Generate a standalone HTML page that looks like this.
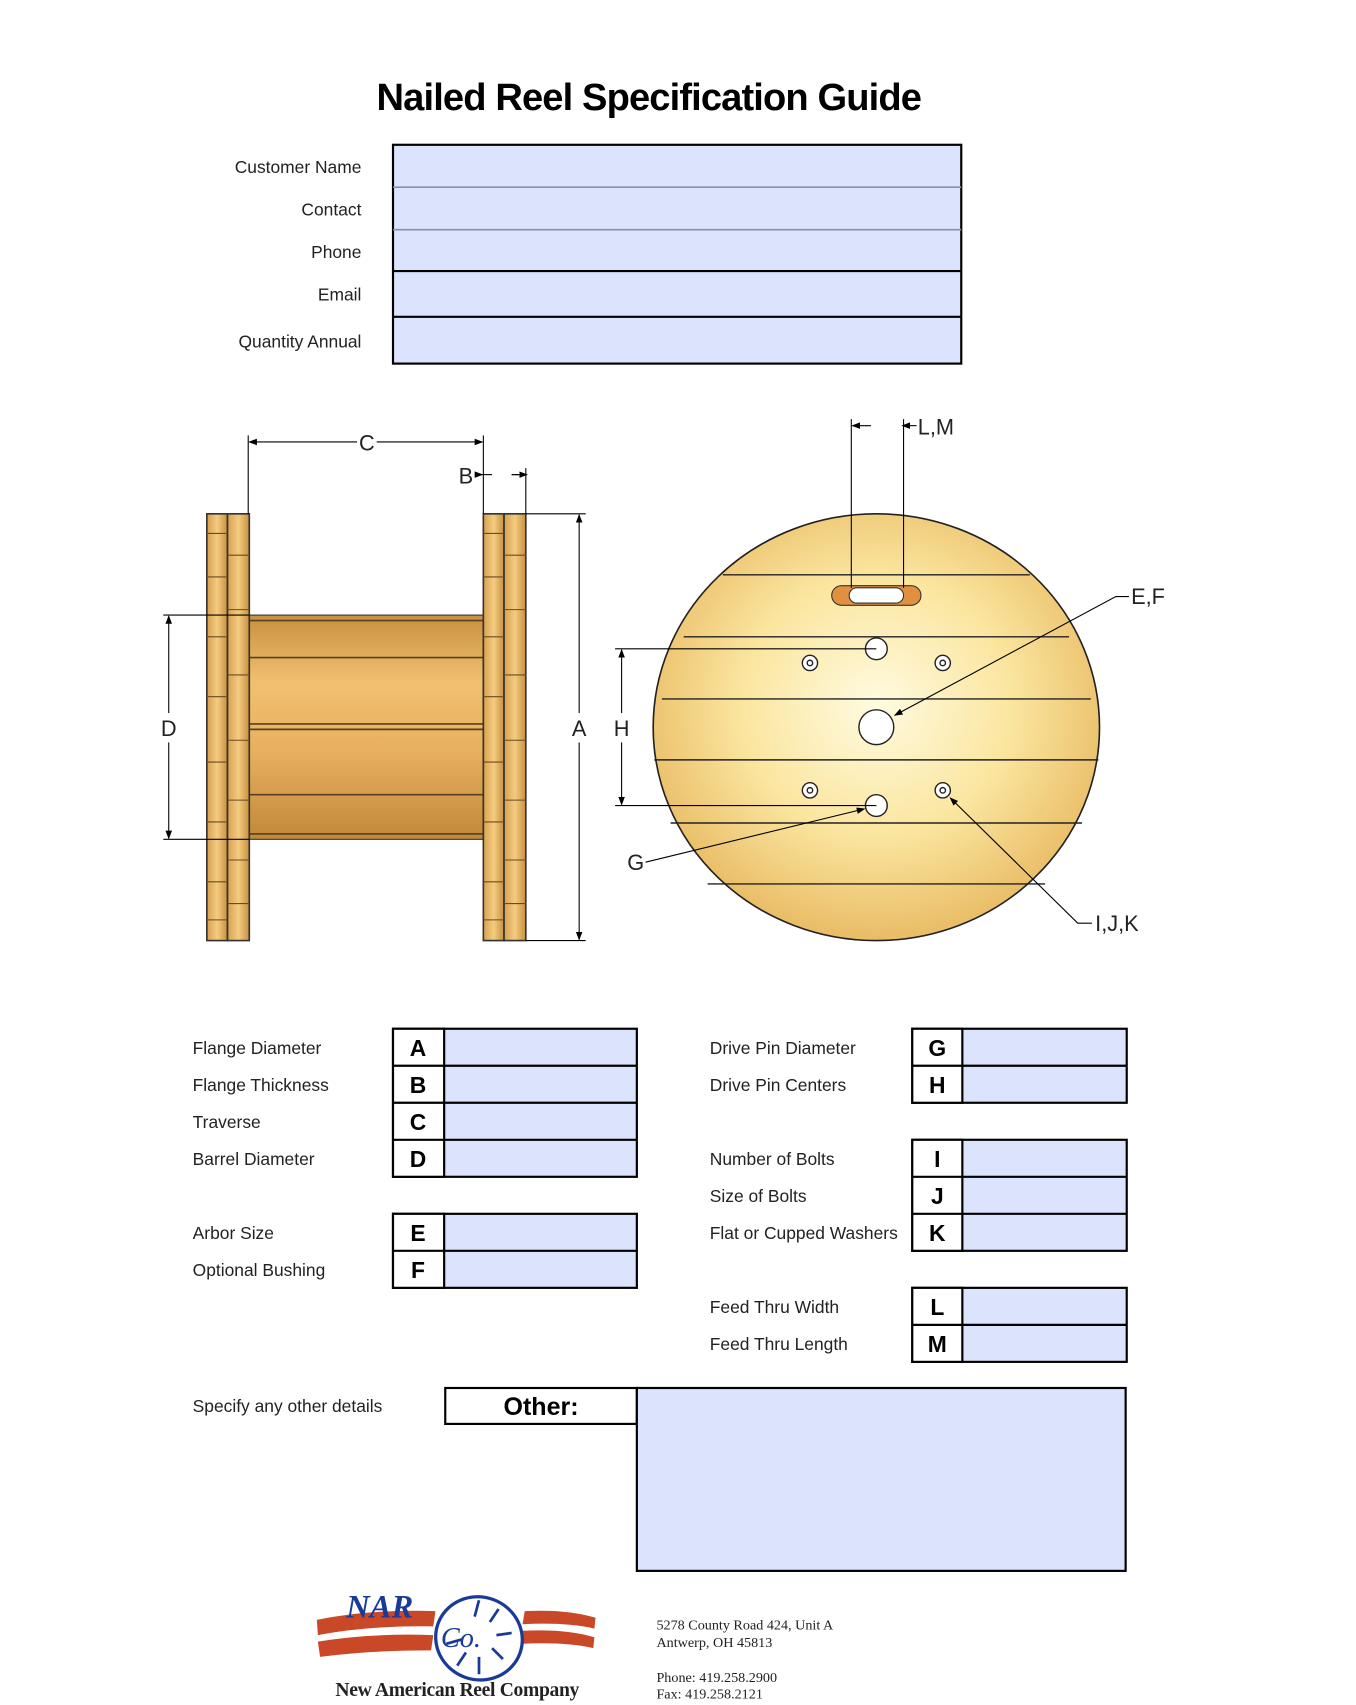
<!DOCTYPE html>
<html><head><meta charset="utf-8"><style>html,body{margin:0;padding:0;background:#fff}svg{display:block}</style></head>
<body>
<svg width="1356" height="1705" viewBox="0 0 1245.6 1566.2" xmlns="http://www.w3.org/2000/svg" font-family="Liberation Sans, sans-serif">
<defs>
<linearGradient id="barrel" x1="0" y1="0" x2="0" y2="1">
<stop offset="0" stop-color="#c89040"/><stop offset="0.3" stop-color="#f0c070"/><stop offset="0.6" stop-color="#e8b060"/><stop offset="1" stop-color="#c08838"/></linearGradient>
<linearGradient id="fl" x1="0" y1="0" x2="1" y2="0">
<stop offset="0" stop-color="#d8a050"/><stop offset="0.5" stop-color="#f4cc80"/><stop offset="1" stop-color="#c89040"/></linearGradient>
<radialGradient id="disk" cx="0.5" cy="0.45" r="0.6">
<stop offset="0" stop-color="#fffbe0"/><stop offset="0.5" stop-color="#fbe6a0"/><stop offset="1" stop-color="#e6b45a"/></radialGradient>
<marker id="ar" markerWidth="8" markerHeight="8" refX="7" refY="4" orient="auto" markerUnits="userSpaceOnUse"><path d="M0,1 L8,4 L0,7 Z" fill="#000"/></marker>
</defs>
<text x="596" y="101" font-size="35" font-weight="bold" text-anchor="middle" letter-spacing="-0.8">Nailed Reel Specification Guide</text>
<rect x="361" y="133" width="522" height="201" fill="#dce3fc" stroke="#000" stroke-width="2"/>
<line x1="361" y1="172" x2="883" y2="172" stroke="#8890aa" stroke-width="1.5"/>
<line x1="361" y1="211" x2="883" y2="211" stroke="#8890aa" stroke-width="1.5"/>
<line x1="361" y1="249" x2="883" y2="249" stroke="#000" stroke-width="2"/>
<line x1="361" y1="291" x2="883" y2="291" stroke="#000" stroke-width="2"/>
<g font-size="16" text-anchor="end" fill="#222">
<text x="332" y="159">Customer Name</text><text x="332" y="198">Contact</text><text x="332" y="237">Phone</text><text x="332" y="276">Email</text><text x="332" y="319">Quantity Annual</text></g>
<rect x="229" y="565" width="215" height="206" fill="url(#barrel)" stroke="#333"/>
<g stroke="#554020" stroke-width="1.5"><line x1="229" y1="570" x2="444" y2="570"/><line x1="229" y1="604" x2="444" y2="604"/><line x1="229" y1="665" x2="444" y2="665"/><line x1="229" y1="670" x2="444" y2="670"/><line x1="229" y1="730" x2="444" y2="730"/><line x1="229" y1="766" x2="444" y2="766"/></g>
<g stroke="#333" stroke-width="1.5">
<rect x="190" y="472" width="19" height="392" fill="url(#fl)"/><rect x="209" y="472" width="20" height="392" fill="url(#fl)"/>
<rect x="444" y="472" width="19" height="392" fill="url(#fl)"/><rect x="463" y="472" width="20" height="392" fill="url(#fl)"/>
</g>
<g stroke="#6a4a20" stroke-width="1">
<path d="M190,490H209M190,530H209M190,585H209M190,640H209M190,700H209M190,755H209M190,810H209M190,845H209M209,510H229M209,560H229M209,620H229M209,680H229M209,735H229M209,790H229M209,830H229"/>
<path d="M444,490H463M444,530H463M444,585H463M444,640H463M444,700H463M444,755H463M444,810H463M444,845H463M463,510H483M463,560H483M463,620H483M463,680H483M463,735H483M463,790H483M463,830H483"/>
</g>
<g stroke="#000" stroke-width="1" fill="none">
<line x1="228" y1="400" x2="228" y2="472"/><line x1="444" y1="400" x2="444" y2="472"/><line x1="483" y1="430" x2="483" y2="472"/>
<line x1="328" y1="406" x2="229" y2="406" marker-end="url(#ar)"/><line x1="346" y1="406" x2="443" y2="406" marker-end="url(#ar)"/>
<line x1="437" y1="436" x2="443" y2="436" marker-end="url(#ar)"/><line x1="452" y1="436" x2="443" y2="436"/>
<line x1="483" y1="436" x2="470" y2="436"/><line x1="470" y1="436" x2="484" y2="436" marker-end="url(#ar)"/>
<line x1="483" y1="472" x2="538" y2="472"/><line x1="483" y1="864" x2="538" y2="864"/>
<line x1="532" y1="655" x2="532" y2="473" marker-end="url(#ar)"/><line x1="532" y1="682" x2="532" y2="863" marker-end="url(#ar)"/>
<line x1="150" y1="565" x2="229" y2="565"/><line x1="150" y1="771" x2="229" y2="771"/>
<line x1="155" y1="655" x2="155" y2="566" marker-end="url(#ar)"/><line x1="155" y1="682" x2="155" y2="770" marker-end="url(#ar)"/>
</g>
<g font-size="20" fill="#222" text-anchor="middle">
<text x="337" y="414">C</text><text x="428" y="444">B</text><text x="532" y="676">A</text><text x="155" y="676">D</text><text x="571" y="676">H</text>
<text x="584" y="799">G</text><text x="843" y="399" text-anchor="start">L,M</text><text x="1039" y="555" text-anchor="start">E,F</text><text x="1006" y="855" text-anchor="start">I,J,K</text></g>
<ellipse cx="805" cy="668" rx="205" ry="196" fill="url(#disk)" stroke="#222" stroke-width="1.5"/>
<g stroke="#222" stroke-width="1.3">
<line x1="664" y1="528" x2="946" y2="528"/><line x1="628" y1="585" x2="982" y2="585"/><line x1="608" y1="642" x2="1002" y2="642"/><line x1="601" y1="698" x2="1009" y2="698"/><line x1="616" y1="756" x2="994" y2="756"/><line x1="650" y1="812" x2="960" y2="812"/></g>
<rect x="764" y="538" width="82" height="18" rx="9" fill="#e09040" stroke="#333"/>
<rect x="780" y="540" width="50" height="14" rx="7" fill="#fff" stroke="#333"/>
<g fill="#fff" stroke="#222" stroke-width="1.3">
<circle cx="805" cy="668" r="16"/><circle cx="805" cy="596" r="10"/><circle cx="805" cy="740" r="10"/>
<circle cx="744" cy="609" r="7"/><circle cx="866" cy="609" r="7"/><circle cx="744" cy="726" r="7"/><circle cx="866" cy="726" r="7"/>
<circle cx="744" cy="609" r="2.5"/><circle cx="866" cy="609" r="2.5"/><circle cx="744" cy="726" r="2.5"/><circle cx="866" cy="726" r="2.5"/></g>
<g stroke="#000" stroke-width="1" fill="none">
<line x1="782" y1="385" x2="782" y2="540"/><line x1="830" y1="385" x2="830" y2="540"/>
<line x1="800" y1="391" x2="783" y2="391" marker-end="url(#ar)"/><line x1="842" y1="391" x2="829" y2="391" marker-end="url(#ar)"/>
<line x1="565" y1="596" x2="805" y2="596"/><line x1="565" y1="740" x2="805" y2="740"/>
<line x1="571" y1="655" x2="571" y2="597" marker-end="url(#ar)"/><line x1="571" y1="682" x2="571" y2="739" marker-end="url(#ar)"/>
<polyline points="1037,548 1025,548 822,657" marker-end="url(#ar)"/>
<polyline points="593,792 794,743" marker-end="url(#ar)"/>
<polyline points="1003,848 990,848 873,733" marker-end="url(#ar)"/>
</g>
<g stroke="#000" stroke-width="2" fill="#dce3fc">
<rect x="361" y="945" width="224" height="136"/><rect x="361" y="1115" width="224" height="68"/>
<rect x="838" y="945" width="197" height="68"/><rect x="838" y="1047" width="197" height="102"/><rect x="838" y="1183" width="197" height="68"/>
</g>
<g stroke="#000" stroke-width="2" fill="#fff">
<rect x="361" y="945" width="47" height="136"/><rect x="361" y="1115" width="47" height="68"/>
<rect x="838" y="945" width="46" height="68"/><rect x="838" y="1047" width="46" height="102"/><rect x="838" y="1183" width="46" height="68"/>
</g>
<g stroke="#000" stroke-width="2">
<path d="M361,979H585M361,1013H585M361,1047H585M361,1149H585M838,979H1035M838,1081H1035M838,1115H1035M838,1217H1035"/></g>
<g font-size="21" font-weight="bold" text-anchor="middle">
<text x="384" y="970">A</text><text x="384" y="1004">B</text><text x="384" y="1038">C</text><text x="384" y="1072">D</text><text x="384" y="1140">E</text><text x="384" y="1174">F</text>
<text x="861" y="970">G</text><text x="861" y="1004">H</text><text x="861" y="1072">I</text><text x="861" y="1106">J</text><text x="861" y="1140">K</text><text x="861" y="1208">L</text><text x="861" y="1242">M</text></g>
<g font-size="16" fill="#222">
<text x="177" y="968">Flange Diameter</text><text x="177" y="1002">Flange Thickness</text><text x="177" y="1036">Traverse</text><text x="177" y="1070">Barrel Diameter</text>
<text x="177" y="1138">Arbor Size</text><text x="177" y="1172">Optional Bushing</text>
<text x="652" y="968">Drive Pin Diameter</text><text x="652" y="1002">Drive Pin Centers</text><text x="652" y="1070">Number of Bolts</text><text x="652" y="1104">Size of Bolts</text><text x="652" y="1138">Flat or Cupped Washers</text>
<text x="652" y="1206">Feed Thru Width</text><text x="652" y="1240">Feed Thru Length</text>
<text x="177" y="1297">Specify any other details</text></g>
<rect x="409" y="1275" width="176" height="33" fill="#fff" stroke="#000" stroke-width="2"/>
<rect x="585" y="1275" width="449" height="168" fill="#dce3fc" stroke="#000" stroke-width="2"/>
<text x="497" y="1300" font-size="23" font-weight="bold" text-anchor="middle">Other:</text>
<g>
<path d="M291,1488 Q340,1478 400,1480 L398,1494 Q340,1493 292,1502Z" fill="#c84828"/>
<path d="M292,1508 Q340,1500 398,1502 L396,1516 Q340,1516 294,1522Z" fill="#c84828"/>
<path d="M482,1480 Q520,1478 547,1486 L546,1496 Q520,1490 480,1492Z" fill="#c84828"/>
<path d="M480,1498 Q520,1496 546,1504 L545,1514 Q520,1508 478,1510Z" fill="#c84828"/>
<ellipse cx="440" cy="1505" rx="40" ry="38" fill="#fff" stroke="#1a3a9a" stroke-width="3" transform="rotate(20 440 1505)"/>
<g stroke="#1a3a9a" stroke-width="2.5"><path d="M440,1470L436,1485M458,1478L450,1490M470,1500L456,1502M462,1524L452,1514M440,1538L440,1522M420,1530L428,1518M410,1510L424,1506"/></g>
<text x="318" y="1486" font-size="30" font-weight="bold" font-style="italic" fill="#1a3a9a" font-family="Liberation Serif, serif">NAR</text>
<text x="405" y="1513" font-size="26" font-style="italic" fill="#1a3a9a" font-family="Liberation Serif, serif">Co.</text>
<text x="420" y="1558" font-size="18" font-weight="bold" text-anchor="middle" fill="#222" font-family="Liberation Serif, serif" letter-spacing="-0.3">New American Reel Company</text>
</g>
<g font-size="13" fill="#222" font-family="Liberation Serif, serif">
<text x="603" y="1497">5278 County Road 424, Unit A</text><text x="603" y="1513">Antwerp, OH 45813</text>
<text x="603" y="1545">Phone: 419.258.2900</text><text x="603" y="1560">Fax: 419.258.2121</text></g>
</svg>
</body></html>
